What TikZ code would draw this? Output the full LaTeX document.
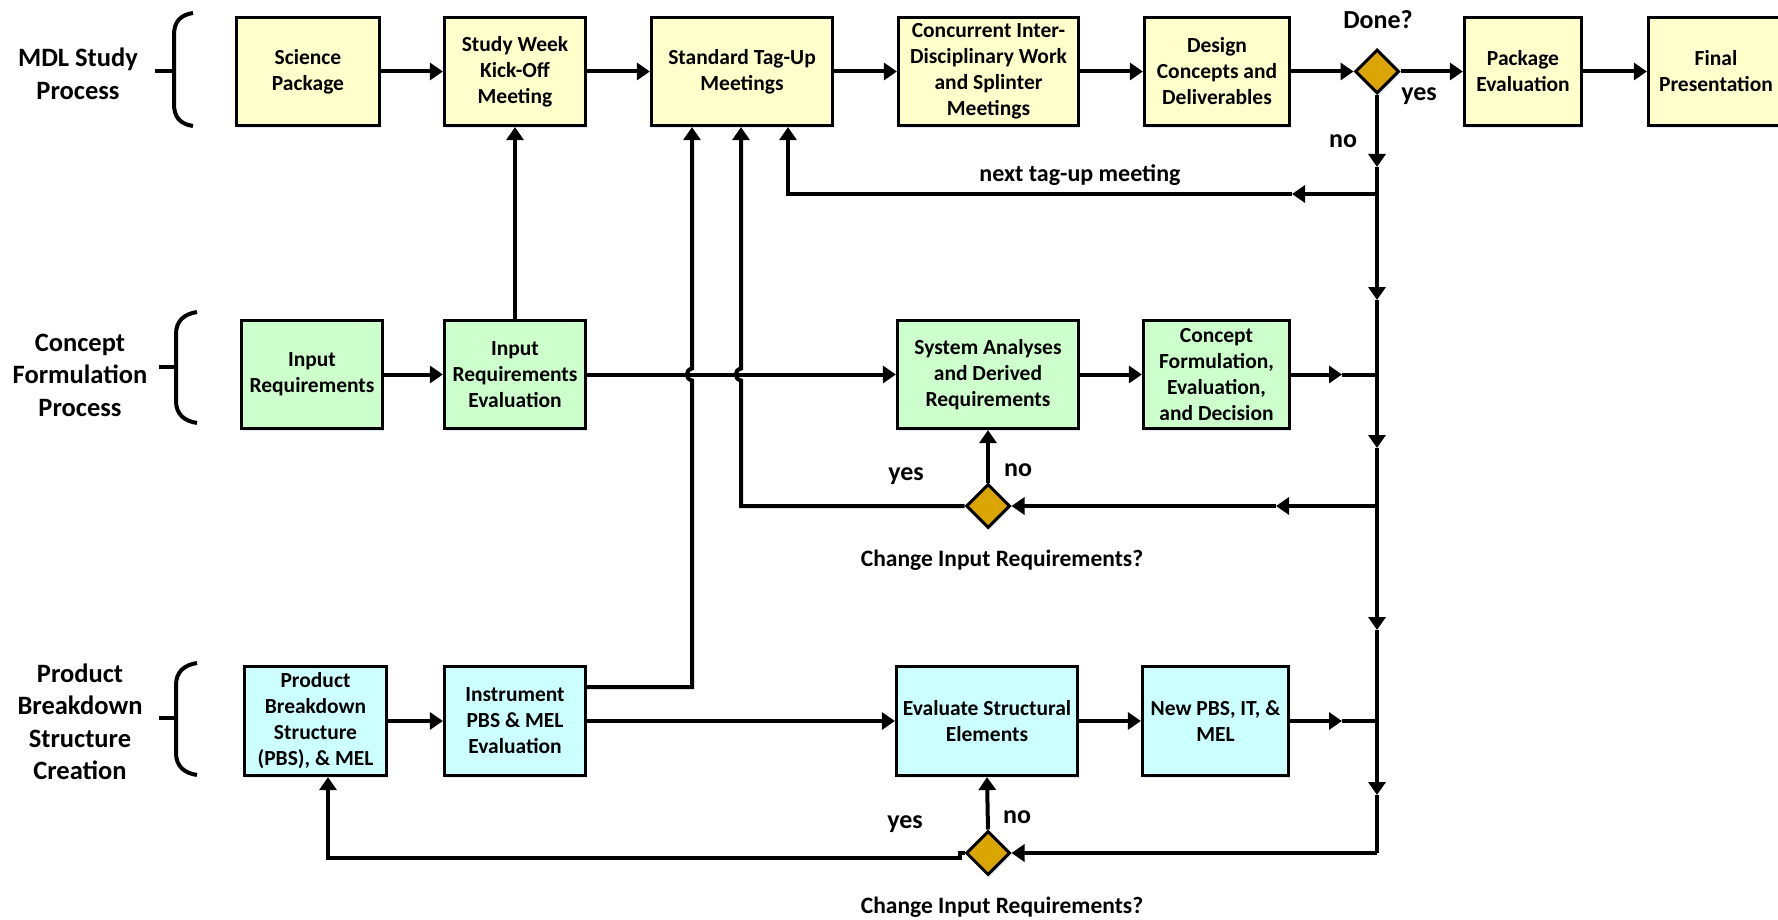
\documentclass[tikz,border=0pt]{standalone}
\usepackage{fontspec}
\setmainfont{Carlito}
\usetikzlibrary{arrows.meta,shapes.geometric,shadows}
\definecolor{boxyellow}{RGB}{255,255,204}
\definecolor{boxgreen}{RGB}{204,255,204}
\definecolor{boxcyan}{RGB}{204,255,255}
\definecolor{decgold}{RGB}{218,165,0}
\definecolor{shadowblue}{RGB}{170,190,225}

\begin{document}
\begin{tikzpicture}[x=1pt,y=-1pt,
  softshadow/.style={drop shadow={shadow xshift=1.5pt,shadow yshift=-2.5pt,opacity=0.35,fill=shadowblue}},
  proc/.style={draw,line width=3.2pt,align=center,inner sep=0pt,minimum height=108pt,
    font=\bfseries\fontsize{21.5}{26}\selectfont,softshadow},
  ybox/.style={proc,fill=boxyellow},
  gbox/.style={proc,fill=boxgreen},
  cbox/.style={proc,fill=boxcyan},
  decision/.style={diamond,draw,line width=3pt,fill=decgold,aspect=1,minimum size=44pt,inner sep=0pt,softshadow},
  conn/.style={line width=4pt},
  arr/.style={conn,-{Triangle[length=13pt,width=17pt]}},
  bracepath/.style={line width=4pt},
  grouplabel/.style={align=center,font=\bfseries\fontsize{26.5}{32.5}\selectfont},
  ynlabel/.style={font=\bfseries\fontsize{26}{30}\selectfont},
  note/.style={font=\bfseries\fontsize{23.5}{28}\selectfont}
]
\useasboundingbox (0,0) rectangle (1778,920);

% ---------- group labels and braces ----------
\node[grouplabel] (gl1) at (78,74) {MDL Study\\Process};
\node[grouplabel] (gl2) at (80,375) {Concept\\Formulation\\Process};
\node[grouplabel] (gl3) at (80,722) {Product\\Breakdown\\Structure\\Creation};

\draw[bracepath] (193,13) .. controls (180,15) and (174,22) .. (174,35) -- (174,104)
  .. controls (174,117) and (180,124) .. (193,126);
\draw[bracepath] (155,71) -- (174,71);
\draw[bracepath] (197,312) .. controls (184,314) and (176,321) .. (176,334) -- (176,401)
  .. controls (176,414) and (184,421) .. (197,423);
\draw[bracepath] (159,367) -- (176,367);
\draw[bracepath] (197,663) .. controls (184,665) and (176,672) .. (176,685) -- (176,753)
  .. controls (176,766) and (184,773) .. (197,775);
\draw[bracepath] (159,718) -- (176,718);

% ---------- row 1: study process ----------
\node[ybox,minimum width=143pt] (sci) at (308,71.5) {Science\\Package};
\node[ybox,minimum width=141pt] (kick) at (515,71.5) {Study Week\\Kick-Off\\Meeting};
\node[ybox,minimum width=181pt] (tag) at (742,71.5) {Standard Tag-Up\\Meetings};
\node[ybox,minimum width=180pt] (conc) at (988.5,71.5) {Concurrent Inter-\\Disciplinary Work\\and Splinter\\Meetings};
\node[ybox,minimum width=145pt] (des) at (1217,71.5) {Design\\Concepts and\\Deliverables};
\node[decision] (done) at (1377,71.5) {};
\node[ybox,minimum width=117pt] (pkg) at (1523,71.5) {Package\\Evaluation};
\node[ybox,minimum width=135pt] (fin) at (1716,71.5) {Final\\Presentation};

\node[ynlabel] (donelbl) at (1378,20) {Done?};
\node[ynlabel] (doneyes) at (1419,96) {yes};
\node[ynlabel] (doneno) at (1343,141) {no};

% ---------- row 2: concept formulation ----------
\node[gbox,minimum width=141pt] (inreq) at (312,374.5) {Input\\Requirements};
\node[gbox,minimum width=141pt] (ireval) at (515,374.5) {Input\\Requirements\\Evaluation};
\node[gbox,minimum width=181pt] (sysan) at (988,374.5) {System Analyses\\and Derived\\Requirements};
\node[gbox,minimum width=146pt] (cform) at (1216.5,374.5) {Concept\\Formulation,\\Evaluation,\\and Decision};
\node[decision] (chg1) at (988,506) {};
\node[ynlabel] (chg1yes) at (906,476) {yes};
\node[ynlabel] (chg1no) at (1018,470) {no};
\node[note] (chg1lbl) at (1002,560) {Change Input Requirements?};

% ---------- row 3: product breakdown structure ----------
\node[cbox,minimum width=142pt,minimum height=109pt] (pbs) at (315.5,721) {Product\\Breakdown\\Structure\\(PBS), \& MEL};
\node[cbox,minimum width=141pt,minimum height=109pt] (instr) at (515,721) {Instrument\\PBS \& MEL\\Evaluation};
\node[cbox,minimum width=181pt,minimum height=109pt] (evs) at (987,721) {Evaluate Structural\\Elements};
\node[cbox,minimum width=146pt,minimum height=109pt] (newpbs) at (1215.5,721) {New PBS, IT, \&\\MEL};
\node[decision] (chg2) at (988,853) {};
\node[ynlabel] (chg2yes) at (905,824) {yes};
\node[ynlabel] (chg2no) at (1017,817) {no};
\node[note] (chg2lbl) at (1002,907) {Change Input Requirements?};

% ---------- junctions and bends ----------
\coordinate (j1) at (1377,194);
\coordinate (j2) at (1377,374.5);
\coordinate (j3) at (1377,506);
\coordinate (j4) at (1377,721);
\coordinate (j5) at (1377,853);
\coordinate (v1) at (1377,167);
\coordinate (v2) at (1377,300);
\coordinate (v3) at (1377,448);
\coordinate (v4) at (1377,630);
\coordinate (v5) at (1377,795);
\coordinate (h1) at (1292,194);
\coordinate (nt) at (788,194);
\coordinate (h2) at (1342,374.5);
\coordinate (h3) at (1276,506);
\coordinate (yb) at (741,506);
\coordinate (h4) at (1342,721);
\coordinate (ic) at (692,687);
\coordinate (s1) at (960,853);
\coordinate (s2) at (960,858);
\coordinate (pb) at (328,858);

% ---------- row 1 flow ----------
\draw[arr] (sci) -- (kick);
\draw[arr] (kick) -- (tag);
\draw[arr] (tag) -- (conc);
\draw[arr] (conc) -- (des);
\draw[arr] (des) -- (done);
\draw[arr] (done) -- (pkg);
\draw[arr] (pkg) -- (fin);

% main return line on the right
\draw[arr] (done.south) -- (v1);
\draw[conn] (v1) -- (j1);
\draw[arr] (j1) -- (v2);
\draw[conn] (v2) -- (j2);
\draw[arr] (j2) -- (v3);
\draw[conn] (v3) -- (j3);
\draw[arr] (j3) -- (v4);
\draw[conn] (v4) -- (j4);
\draw[arr] (j4) -- (v5);
\draw[conn] (v5) -- (j5);

% next tag-up meeting loop
\draw[arr] (j1) -- (h1);
\draw[arr] (h1) -- (nt) -- (nt |- tag.south);
\node[note,font=\bfseries\fontsize{24}{28}\selectfont] (ntlbl) at (1080,175) {next tag-up meeting};

% ---------- row 2 flow ----------
\draw[arr] (inreq) -- (ireval);
\draw[arr] (ireval.north) -- (kick.south);
\draw[arr] (ireval) -- (sysan);
\draw[arr] (sysan) -- (cform);
\draw[arr] (cform) -- (h2);
\draw[conn] (h2) -- (j2);
\draw[arr] (j3) -- (h3);
\draw[arr] (h3) -- (chg1.east);
\draw[arr] (chg1.north) -- (sysan.south);
\draw[arr] (chg1.west) -- (yb) -- (741,380.5)
  .. controls (734,379) and (734,370) .. (741,368.5) -- (yb |- tag.south);

% ---------- row 3 flow ----------
\draw[arr] (pbs) -- (instr);
\draw[arr] (instr) -- (evs);
\draw[arr] (evs) -- (newpbs);
\draw[arr] (newpbs) -- (h4);
\draw[conn] (h4) -- (j4);
\draw[arr] (instr.east |- ic) -- (ic) -- (692,380.5)
  .. controls (685,379) and (685,370) .. (692,368.5) -- (ic |- tag.south);
\draw[arr] (j5) -- (chg2.east);
\draw[arr] (chg2.north) -- (evs.south);
\draw[arr] (chg2.west) -- (s1) -- (s2) -- (pb) -- (pb |- pbs.south);

\end{tikzpicture}
\end{document}
